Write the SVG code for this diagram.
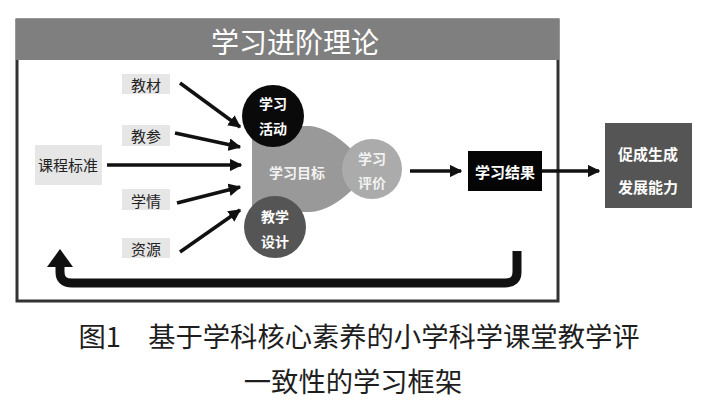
<svg xmlns="http://www.w3.org/2000/svg" width="713" height="402" viewBox="0 0 713 402">
<style>
text{font-family:"Noto Sans CJK SC","Noto Sans",sans-serif;text-anchor:middle;dominant-baseline:central}
.lbl{font-size:15px;fill:#222}
.lblbox{fill:#e6e6e6}
.wt{font-size:14px;fill:#fff;font-weight:bold}
.arr{stroke:#111;stroke-width:3.5;fill:none;marker-end:url(#ah)}
.cap{font-size:27.3px;fill:#1e1e1e}
</style>
<defs>
<marker id="ah" viewBox="0 0 10 10" refX="9" refY="5" markerWidth="3.6" markerHeight="3.6" orient="auto" markerUnits="strokeWidth">
<path d="M0,0 L10,5 L0,10 Z" fill="#111"/>
</marker>
</defs>
<rect width="713" height="402" fill="#fff"/>
<g id="frame">
<rect x="17" y="20" width="541" height="281" fill="#fff" stroke="#333" stroke-width="3"/>
<rect x="16" y="19" width="543" height="41" fill="#7f7f7f"/>
<text x="295" y="41" style="font-size:28px;fill:#fff">学习进阶理论</text>
</g>
<g id="n-jiaocai"><rect class="lblbox" x="122" y="74" width="48" height="20"/><text class="lbl" x="146" y="84">教材</text></g>
<g id="n-jiaocan"><rect class="lblbox" x="122" y="125" width="48" height="21"/><text class="lbl" x="146" y="135">教参</text></g>
<g id="n-kcbz"><rect class="lblbox" x="35" y="145" width="67" height="40"/><text class="lbl" x="68" y="164">课程标准</text></g>
<g id="n-xueqing"><rect class="lblbox" x="122" y="189" width="48" height="21"/><text class="lbl" x="146" y="200">学情</text></g>
<g id="n-ziyuan"><rect class="lblbox" x="122" y="238" width="48" height="20"/><text class="lbl" x="146" y="248">资源</text></g>
<g id="n-mubiao">
<path d="M252,133 Q252,126 268,126 L310,126 Q330,128 352,150 L352,190 Q330,211 310,212 L268,212 Q252,212 252,205 Z" fill="#999"/>
<text class="wt" x="297" y="172" style="fill:#f2f2f2">学习目标</text>
</g>
<g id="n-pingjia"><circle cx="372" cy="169" r="30" fill="#ababab"/>
<text class="wt" x="372" y="158" style="fill:#f2f2f2">学习</text><text class="wt" x="372" y="182" style="fill:#f2f2f2">评价</text></g>
<g id="n-huodong"><circle cx="273" cy="116" r="31" fill="#0a0a0a"/>
<text class="wt" x="273" y="103">学习</text><text class="wt" x="273" y="128">活动</text></g>
<g id="n-sheji"><circle cx="275" cy="227" r="31" fill="#555"/>
<text class="wt" x="275" y="216">教学</text><text class="wt" x="275" y="241">设计</text></g>
<g id="n-jieguo"><rect x="468" y="151" width="74" height="40" fill="#050505"/>
<text class="wt" x="505" y="171" style="font-size:15px">学习结果</text></g>
<g id="n-nengli"><rect x="605" y="123" width="87" height="85" fill="#555"/>
<text class="wt" x="648" y="153" style="font-size:15px">促成生成</text><text class="wt" x="648" y="186" style="font-size:15px">发展能力</text></g>
<g id="connectors">
<line class="arr" x1="180" y1="83" x2="240" y2="127"/>
<line class="arr" x1="175" y1="133" x2="240" y2="147"/>
<line class="arr" x1="107" y1="165" x2="241" y2="165"/>
<line class="arr" x1="177" y1="203" x2="240" y2="187"/>
<line class="arr" x1="180" y1="252" x2="240" y2="210"/>
<line class="arr" x1="410" y1="171" x2="461" y2="171"/>
<line class="arr" x1="542" y1="171" x2="599" y2="171"/>
<path d="M517,251 L517,272 Q517,283 505,283 L72,283 Q60,283 60,272 L60,266" fill="none" stroke="#111" stroke-width="9"/>
<path d="M47,267 L60,249 L73,267 Z" fill="#111"/>
</g>
<g id="caption">
<text class="cap" x="359" y="335">图1　基于学科核心素养的小学科学课堂教学评</text>
<text class="cap" x="353" y="380">一致性的学习框架</text>
</g>
</svg>
